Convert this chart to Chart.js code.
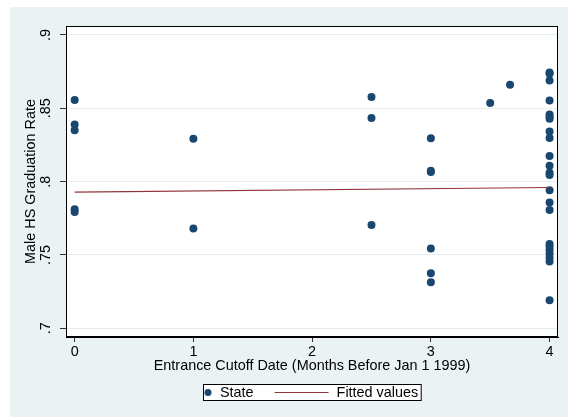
<!DOCTYPE html>
<html><head><meta charset="utf-8">
<script src="https://cdn.jsdelivr.net/npm/chart.js@4"></script>
<style>
html,body{margin:0;padding:0;background:#fff;}
#wrap{position:absolute;left:10px;top:7px;width:558px;height:410px;background:#EAF2F3;}
canvas{display:block;}
</style></head><body>
<div id="wrap"><canvas id="c" width="558" height="410"></canvas></div>
<script>
// ---- data ----
const stateX = [0,0,0,0,0, 1,1, 2.5,2.5,2.5, 3,3,3,3,3,3, 3.5, 3.667,
  4,4,4,4,4,4,4,4,4,4,4,4,4,4,4,4,4,4,4,4,4,4,4];
const stateY = [0.8557,0.8390,0.8350,0.7811,0.7793,
  0.8293,0.7680,
  0.8577,0.8434,0.7705,
  0.8295,0.8075,0.8066,0.7545,0.7375,0.7314,
  0.8536,
  0.8661,
  0.8744,0.8735,0.8689,0.8554,0.8458,0.8443,0.8428,0.8342,0.8297,0.8175,0.8108,0.8061,0.8046,0.7942,0.7857,0.7806,0.7575,0.7557,0.7534,0.7509,0.7482,0.7455,0.7191];
const fitX = [0, 4];
const fitY = [0.7929, 0.7960];
const xTickValues = [0, 1, 2, 3, 4];
const xTickLabels = ['0', '1', '2', '3', '4'];
const yTickValues = [0.7, 0.75, 0.8, 0.85, 0.9];
const yTickLabels = ['.7', '.75', '.8', '.85', '.9'];
const seriesNames = ['State', 'Fitted values'];
const xTitle = 'Entrance Cutoff Date (Months Before Jan 1 1999)';
const yTitle = 'Male HS Graduation Rate';

const FONT = '"Liberation Sans", Arial, Helvetica, sans-serif';
const FS = 14.4;
const NAVY = '#1A476F';
const MAROON = '#90353B';

const framePlugin = {
  id: 'frame',
  beforeDraw(chart) {
    const {ctx, chartArea: a} = chart;
    ctx.save();
    ctx.fillStyle = '#ffffff';
    ctx.fillRect(a.left, a.top, a.right - a.left, a.bottom - a.top);
    ctx.restore();
  },
  afterDraw(chart) {
    const {ctx, chartArea: a} = chart;
    ctx.save();
    ctx.strokeStyle = '#000';
    ctx.lineWidth = 1;
    ctx.strokeRect(Math.round(a.left) + 0.5, Math.round(a.top) + 0.5,
      Math.round(a.right - a.left) - 1, Math.round(a.bottom - a.top) - 1);
    ctx.restore();
  }
};

const legendPlugin = {
  id: 'stataLegend',
  afterDraw(chart) {
    const ctx = chart.ctx, a = chart.chartArea;
    ctx.save();
    ctx.font = FS + 'px ' + FONT;
    const w1 = ctx.measureText(seriesNames[0]).width;
    const w2 = ctx.measureText(seriesNames[1]).width;
    const padL = 4.5, dotToText = 12, gapToLine = 21, lineLen = 54, lineToText = 8, padR = 3;
    const total = padL + dotToText + w1 + gapToLine + lineLen + lineToText + w2 + padR;
    const left = Math.round((a.left + a.right) / 2 - total / 2) + 0.5;
    const top = Math.round(chart.scales.x.bottom + 9) + 0.5;
    const h = 16;
    ctx.fillStyle = '#fff';
    ctx.fillRect(left, top, total, h);
    ctx.strokeStyle = '#000';
    ctx.lineWidth = 1;
    ctx.strokeRect(left, top, total, h);
    const cy = top + h / 2;
    ctx.fillStyle = NAVY;
    ctx.beginPath();
    ctx.arc(left + padL, cy, 3.5, 0, Math.PI * 2);
    ctx.fill();
    ctx.fillStyle = '#000';
    ctx.textBaseline = 'middle';
    ctx.textAlign = 'left';
    const t1 = left + padL + dotToText;
    ctx.fillText(seriesNames[0], t1, cy + 0.5);
    const l0 = t1 + w1 + gapToLine;
    ctx.strokeStyle = MAROON;
    ctx.lineWidth = 1.2;
    ctx.beginPath();
    ctx.moveTo(l0, cy);
    ctx.lineTo(l0 + lineLen, cy);
    ctx.stroke();
    ctx.fillStyle = '#000';
    ctx.fillText(seriesNames[1], l0 + lineLen + lineToText, cy + 0.5);
    ctx.restore();
  }
};

const scatterData = stateX.map((x, i) => ({x: x, y: stateY[i]}));
const fitData = fitX.map((x, i) => ({x: x, y: fitY[i]}));

new Chart(document.getElementById('c'), {
  type: 'scatter',
  data: {
    datasets: [
      {
        label: seriesNames[0],
        data: scatterData,
        backgroundColor: NAVY,
        borderColor: NAVY,
        borderWidth: 0,
        pointRadius: 4,
        pointHoverRadius: 4,
        order: 1
      },
      {
        label: seriesNames[1],
        type: 'line',
        data: fitData,
        showLine: true,
        borderColor: MAROON,
        borderWidth: 1.2,
        pointRadius: 0,
        fill: false,
        order: 0
      }
    ]
  },
  options: {
    responsive: false,
    animation: false,
    devicePixelRatio: 1,
    layout: {padding: {left: 0, right: 10, top: 19, bottom: 42}},
    plugins: {legend: {display: false}, tooltip: {enabled: false}},
    scales: {
      x: {
        type: 'linear',
        position: 'bottom',
        min: -0.073,
        max: 4.071,
        afterBuildTicks: s => { s.ticks = xTickValues.map(v => ({value: v})); },
        afterFit: s => { s.height = 38; },
        ticks: {
          font: {family: FONT, size: FS},
          color: '#000',
          padding: 1,
          maxRotation: 0,
          callback: v => xTickLabels[xTickValues.indexOf(v)]
        },
        grid: {drawOnChartArea: false, tickLength: 5, tickColor: '#333', color: '#333'},
        border: {color: '#000', width: 1},
        title: {display: true, text: xTitle, color: '#000', font: {family: FONT, size: FS}, padding: {top: 0, bottom: 0}}
      },
      y: {
        type: 'linear',
        min: 0.6941,
        max: 0.9061,
        afterBuildTicks: s => { s.ticks = yTickValues.map(v => ({value: v})); },
        afterFit: s => { s.width = 56; },
        ticks: {
          font: {family: FONT, size: FS},
          color: '#000',
          minRotation: 90,
          maxRotation: 90,
          crossAlign: 'center',
          padding: 4,
          callback: v => yTickLabels[yTickValues.indexOf(v)]
        },
        grid: {color: '#E4EEF1', lineWidth: 1, tickLength: 6, tickColor: '#333'},
        border: {color: '#000', width: 1},
        title: {display: true, text: yTitle, color: '#000', font: {family: FONT, size: FS}, padding: {top: 12, bottom: 0}}
      }
    }
  },
  plugins: [framePlugin, legendPlugin]
});
</script>
</body></html>
